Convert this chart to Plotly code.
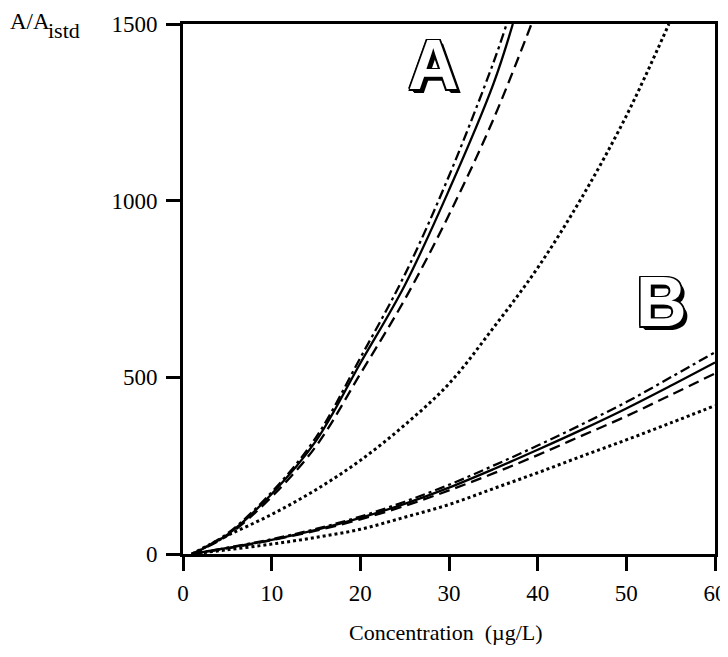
import plotly.graph_objects as go

# ---- data ----
# Group A curves
a_solid_x = [1, 5, 10, 15, 20, 25, 30, 35, 37.2]
a_solid_y = [0, 55, 170, 320, 540, 760, 1030, 1330, 1500]

a_dashdot_x = [1, 5, 10, 15, 20, 25, 30, 35, 36.5]
a_dashdot_y = [0, 58, 175, 330, 555, 790, 1070, 1390, 1500]

a_dash_x = [1, 5, 10, 15, 20, 25, 30, 35, 39.3]
a_dash_y = [0, 52, 162, 305, 510, 720, 960, 1230, 1500]

a_dot_x = [1, 5, 10, 15, 20, 25, 30, 35, 40, 45, 50, 54.8]
a_dot_y = [0, 52, 112, 182, 265, 365, 482, 640, 810, 1010, 1240, 1500]

# Group B curves
b_x = [1, 5, 10, 15, 20, 25, 30, 35, 40, 45, 50, 55, 60]
b_solid_y = [0, 17, 40, 68, 102, 142, 188, 240, 295, 352, 412, 476, 542]
b_dashdot_y = [0, 18, 42, 71, 106, 148, 196, 250, 307, 367, 430, 500, 571]
b_dash_y = [0, 16, 39, 66, 98, 136, 180, 228, 280, 335, 390, 450, 511]
b_dot_y = [0, 12, 28, 47, 70, 104, 140, 185, 230, 277, 323, 371, 420]

x_ticks = [0, 10, 20, 30, 40, 50, 60]
y_ticks = [0, 500, 1000, 1500]

SERIF = "Liberation Serif, Times New Roman, serif"
SOLID = "solid"
DASH = "11px,6px"
DASHDOT = "10px,4px,3px,4px"
DOT = "3px,3px"

fig = go.Figure()

def add(x, y, dash, width=2.3):
    fig.add_trace(go.Scatter(x=x, y=y, mode="lines",
                             line=dict(color="black", width=width, dash=dash, shape="spline"),
                             showlegend=False, hoverinfo="skip"))

add(a_solid_x, a_solid_y, SOLID)
add(a_dashdot_x, a_dashdot_y, DASHDOT)
add(a_dash_x, a_dash_y, DASH)
add(a_dot_x, a_dot_y, DOT, 3)

add(b_x, b_solid_y, SOLID)
add(b_x, b_dashdot_y, DASHDOT)
add(b_x, b_dash_y, DASH)
add(b_x, b_dot_y, DOT, 3)

outline = ("-1.5px -1.5px 0 #000, 1.5px -1.5px 0 #000, -1.5px 1.5px 0 #000, 1.5px 1.5px 0 #000, "
           "0 1.5px 0 #000, 0 -1.5px 0 #000, 1.5px 0 0 #000, -1.5px 0 0 #000, "
           "3px 3px 0 #000, 4px 4px 0 #000")

for label, lx, ly in [("A", 28.3, 1384), ("B", 54.0, 713)]:
    fig.add_annotation(x=lx, y=ly, xref="x", yref="y", text=label, showarrow=False,
                       xanchor="center", yanchor="middle",
                       font=dict(family="Liberation Sans, Arial, sans-serif", size=70,
                                 color="white", weight="bold", shadow=outline))

# y-axis title "A/A" with subscript "istd"
fig.add_annotation(x=-0.329, y=1.004, xref="paper", yref="paper", xanchor="left", yanchor="middle",
                   text="A/A", showarrow=False,
                   font=dict(family=SERIF, size=23, color="black"))
fig.add_annotation(x=-0.2575, y=0.987, xref="paper", yref="paper", xanchor="left", yanchor="middle",
                   text="istd", showarrow=False,
                   font=dict(family=SERIF, size=22, color="black"))

fig.add_annotation(x=0.494, y=-0.149, xref="paper", yref="paper", xanchor="center", yanchor="middle",
                   text="Concentration  (µg/L)", showarrow=False,
                   font=dict(family=SERIF, size=22, color="black"))

# page body has an 8px default margin, so the figure is sized to fit the window
fig.update_layout(
    width=720, height=649,
    margin=dict(l=175, r=13, t=16, b=103, autoexpand=False),
    plot_bgcolor="white", paper_bgcolor="white",
    font=dict(family=SERIF, size=23, color="black"),
    xaxis=dict(range=[0, 60], tickvals=x_ticks, ticktext=[str(v) for v in x_ticks],
               automargin=False,
               showgrid=False, zeroline=False, showline=True, linecolor="black", linewidth=3,
               mirror=True, ticks="outside", ticklen=14, tickwidth=3, tickcolor="black",
               ticklabelstandoff=2),
    yaxis=dict(range=[0, 1500], tickvals=y_ticks, ticktext=[str(v) for v in y_ticks],
               automargin=False,
               showgrid=False, zeroline=False, showline=True, linecolor="black", linewidth=3,
               mirror=True, ticks="outside", ticklen=14, tickwidth=3, tickcolor="black",
               ticklabelstandoff=4),
)

fig.write_html("out.html")
